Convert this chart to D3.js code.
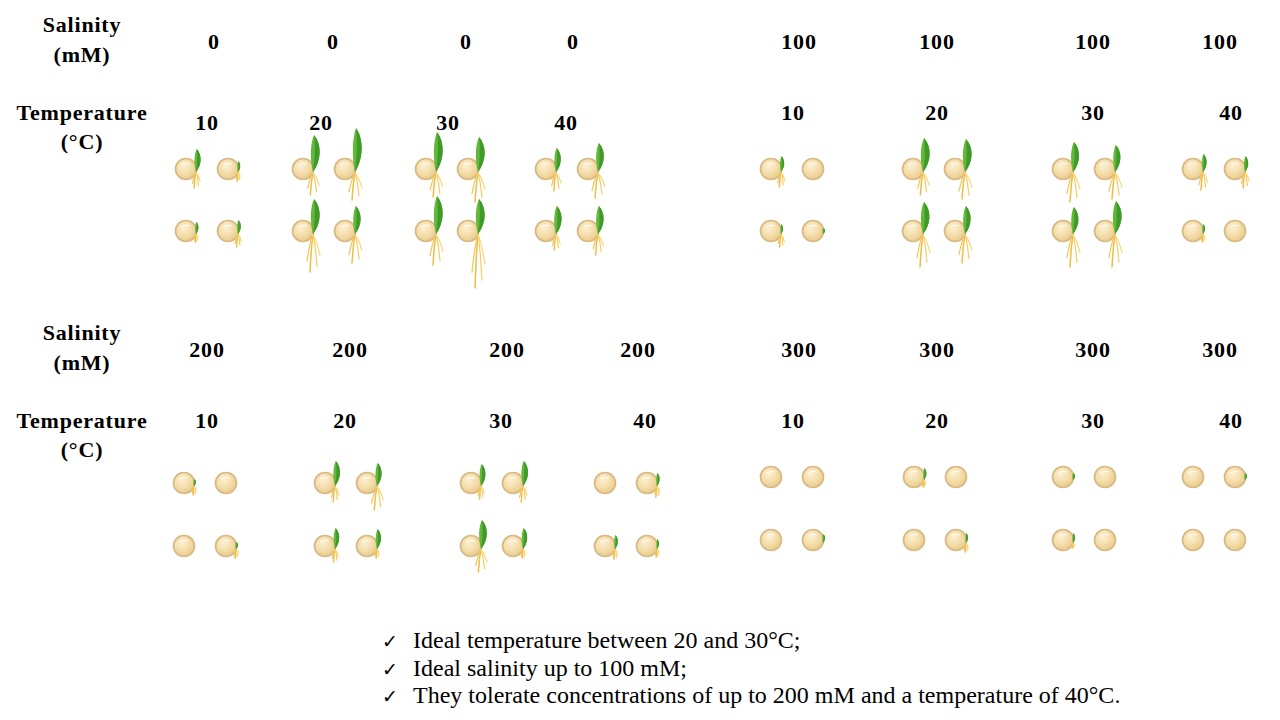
<!DOCTYPE html>
<html>
<head>
<meta charset="utf-8">
<script src="https://cdn.jsdelivr.net/npm/d3@7"></script>
<style>
  html, body { margin: 0; padding: 0; background: #fff; }
  svg { display: block; }
</style>
</head>
<body>
<script>
// values
var salinityLevels = [0, 100, 200, 300];
var temperatureLevels = [10, 20, 30, 40];

// per temperature: [row1 seed1, row1 seed2, row2 seed1, row2 seed2]
// shoot = leaf tip height above seed centre, root = root end below seed centre
var shoot0   = [[20, 8, 9, 11], [34, 41, 32, 25], [37, 32, 35, 32], [21, 26, 25, 25]];
var root0    = [[19, 12, 11, 16], [26, 31, 41, 32], [28, 33, 34, 57], [22, 29, 19, 24]];
var shoot100 = [[13, 0, 7, 3], [31, 30, 29, 25], [27, 24, 24, 30], [15, 13, 7, 0]];
var root100  = [[18, 0, 16, 0], [26, 30, 36, 32], [33, 30, 36, 36], [21, 19, 11, 0]];
var shoot200 = [[4, 0, 0, 4], [22, 20, 18, 17], [19, 22, 26, 18], [0, 10, 11, 7]];
var root200  = [[12, 0, 0, 12], [19, 27, 16, 12], [16, 19, 26, 12], [0, 14, 13, 11]];
var shoot300 = [[0, 0, 0, 6], [9, 0, 0, 7], [4, 0, 7, 0], [0, 4, 0, 0]];
var root300  = [[0, 0, 0, 0], [10, 0, 0, 12], [5, 0, 8, 0], [0, 0, 0, 0]];

var notes = [
  "Ideal temperature between 20 and 30\u00b0C;",
  "Ideal salinity up to 100 mM;",
  "They tolerate concentrations of up to 200 mM and a temperature of 40\u00b0C."
];

var shootBySal = [shoot0, shoot100, shoot200, shoot300];
var rootBySal = [root0, root100, root200, root300];

// layout
var width = 1280;
var height = 720;
var serif = "'Liberation Serif', 'Times New Roman', serif";

var groupRange = [[207, 324, 447, 567], [792, 934, 1084, 1214], [205, 346, 492, 626], [792, 935, 1084, 1214]];
var salLabelRange = [[214, 333, 466, 573], [799, 937, 1093, 1220], [207, 350, 507, 638], [799, 937, 1093, 1220]];
var tempLabelRange = [[207, 321, 448, 566], [793, 937, 1093, 1231], [207, 345, 501, 645], [793, 937, 1093, 1231]];
var rowY = [[169, 231], [169, 231], [483, 546], [477, 540]];
var salLabelY = [49, 49, 357, 357];
var tempLabelY = [130, 120, 428, 428];
var seedDx = 21;
var seedR = 10.5;

var svg = d3.select("body")
            .append("svg")
            .attr("width", width)
            .attr("height", height);

var defs = svg.append("defs");
var grad = defs.append("radialGradient")
    .attr("id", "seedFill")
    .attr("cx", "40%").attr("cy", "35%").attr("r", "65%");
grad.append("stop").attr("offset", "0%").attr("stop-color", "#fcf0d2");
grad.append("stop").attr("offset", "60%").attr("stop-color", "#f3dca8");
grad.append("stop").attr("offset", "100%").attr("stop-color", "#eacb8c");

// length scale (px per unit)
var lenScale = d3.scaleLinear().domain([0, 60]).range([0, 60]);

var groupX = salinityLevels.map(function(s, i) {
  return d3.scaleOrdinal().domain(temperatureLevels).range(groupRange[i]);
});
var salX = salinityLevels.map(function(s, i) {
  return d3.scaleOrdinal().domain(temperatureLevels).range(salLabelRange[i]);
});
var tempX = salinityLevels.map(function(s, i) {
  return d3.scaleOrdinal().domain(temperatureLevels).range(tempLabelRange[i]);
});

// flat table of seeds
var seeds = [];
salinityLevels.forEach(function(sal, si) {
  temperatureLevels.forEach(function(temp, ti) {
    [0, 1, 2, 3].forEach(function(k) {
      seeds.push({
        sal: sal, temp: temp, si: si, k: k,
        shoot: shootBySal[si][ti][k],
        root: rootBySal[si][ti][k]
      });
    });
  });
});

function cxOf(d) { return groupX[d.si](d.temp) + (d.k % 2 ? seedDx : -seedDx); }
function cyOf(d) { return rowY[d.si][Math.floor(d.k / 2)]; }

function boldText(sel) {
  sel.attr("text-anchor", "middle")
     .attr("font-family", serif)
     .attr("font-weight", "bold")
     .attr("font-size", 22)
     .attr("letter-spacing", 0.8);
}

// left captions
var captions = [
  ["Salinity", 32], ["(mM)", 62], ["Temperature", 120], ["(\u00b0C)", 149],
  ["Salinity", 340], ["(mM)", 370], ["Temperature", 428], ["(\u00b0C)", 457]
];
svg.append("g").selectAll("text")
   .data(captions)
   .enter()
   .append("text")
   .attr("x", 82)
   .attr("y", function(d) { return d[1]; })
   .call(boldText)
   .text(function(d) { return d[0]; });

// column headers
var headers = [];
salinityLevels.forEach(function(sal, si) {
  temperatureLevels.forEach(function(temp) {
    headers.push({ si: si, sal: sal, temp: temp });
  });
});

svg.append("g").selectAll("text")
   .data(headers)
   .enter()
   .append("text")
   .attr("x", function(d) { return salX[d.si](d.temp); })
   .attr("y", function(d) { return salLabelY[d.si]; })
   .call(boldText)
   .text(function(d) { return d.sal; });

svg.append("g").selectAll("text")
   .data(headers)
   .enter()
   .append("text")
   .attr("x", function(d) { return tempX[d.si](d.temp); })
   .attr("y", function(d) { return tempLabelY[d.si]; })
   .call(boldText)
   .text(function(d) { return d.temp; });

// seeds
var seedG = svg.append("g").selectAll("g")
   .data(seeds)
   .enter()
   .append("g")
   .attr("transform", function(d) { return "translate(" + cxOf(d) + "," + cyOf(d) + ")"; });

seedG.append("circle")
   .attr("r", seedR)
   .attr("fill", "url(#seedFill)")
   .attr("stroke", "#d8b984")
   .attr("stroke-width", 1.7);

seedG.append("path")
   .attr("d", "M-5,-4 Q-1,-7 4,-5")
   .attr("fill", "none")
   .attr("stroke", "#fffaf0")
   .attr("stroke-width", 1.4)
   .attr("opacity", 0.8);

// roots
var strands = [
  { f: 1.0, dx: -3, c: "#efbd45" },
  { f: 0.85, dx: 4, c: "#f5cc62" },
  { f: 0.7, dx: -6, c: "#f2c555" },
  { f: 0.55, dx: 7, c: "#f7d77c" }
];
seedG.each(function(d) {
  var g = d3.select(this);
  var bx = 10, by = 4;
  var len = lenScale(d.root) - by;
  if (len <= 1) return;
  strands.forEach(function(s, i) {
    var L = len * s.f;
    var ex = bx + s.dx * Math.min(1, len / 25);
    var p = d3.path();
    p.moveTo(bx, by);
    p.bezierCurveTo(bx + s.dx * 0.6, by + L * 0.3, ex - s.dx * 0.3, by + L * 0.6, ex, by + L);
    g.append("path")
     .attr("d", p.toString())
     .attr("fill", "none")
     .attr("stroke", s.c)
     .attr("stroke-width", i === 0 ? 1.5 : 1.2)
     .attr("stroke-linecap", "round");
  });
});

// leaves
seedG.each(function(d) {
  var g = d3.select(this);
  if (d.shoot <= 0) return;
  var bx = 10, by = 3;
  var tipY = -lenScale(d.shoot);
  var L = by - tipY;
  var w = Math.max(3, Math.min(10, L * 0.3));
  var full = d3.path();
  full.moveTo(bx, by);
  full.bezierCurveTo(bx - w * 0.35, by - L * 0.35, bx - w * 0.25, by - L * 0.8, bx + w * 0.1, tipY);
  full.bezierCurveTo(bx + w * 0.9, by - L * 0.75, bx + w * 0.85, by - L * 0.3, bx, by);
  full.closePath();
  g.append("path").attr("d", full.toString()).attr("fill", "#62b83a");
  var half = d3.path();
  half.moveTo(bx, by);
  half.bezierCurveTo(bx + w * 0.25, by - L * 0.4, bx + w * 0.2, by - L * 0.8, bx + w * 0.1, tipY);
  half.bezierCurveTo(bx + w * 0.9, by - L * 0.75, bx + w * 0.85, by - L * 0.3, bx, by);
  half.closePath();
  g.append("path").attr("d", half.toString()).attr("fill", "#3f9a2a");
});

// notes
var noteG = svg.append("g").selectAll("g")
   .data(notes)
   .enter()
   .append("g")
   .attr("transform", function(d, i) { return "translate(0," + (648 + i * 27.5) + ")"; });

noteG.append("text")
   .attr("x", 382)
   .attr("font-family", "'DejaVu Sans', sans-serif")
   .attr("font-size", 19)
   .text("\u2713");

noteG.append("text")
   .attr("x", 413)
   .attr("font-family", serif)
   .attr("font-size", 24)
   .text(function(d) { return d; });
</script>
</body>
</html>
